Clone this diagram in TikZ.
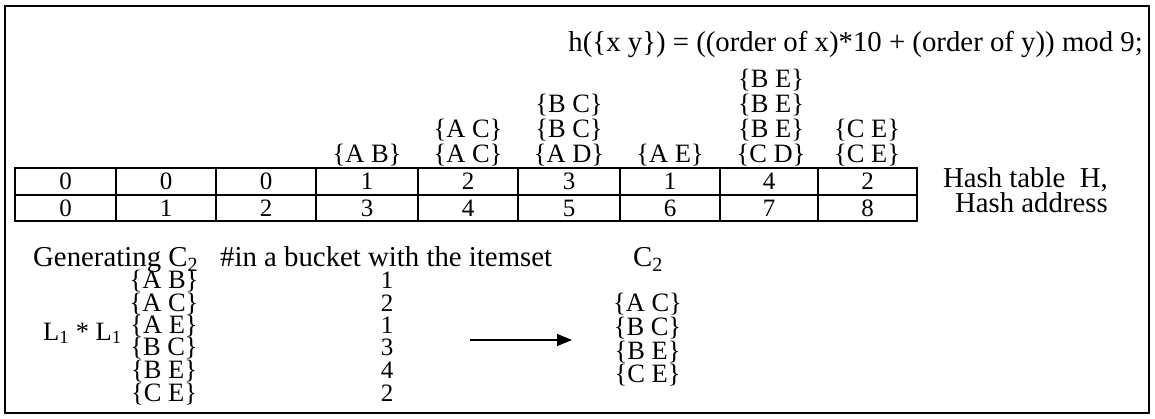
\documentclass[tikz,border=0pt]{standalone}
\usepackage{fontspec}
\setmainfont{Liberation Serif}
\usetikzlibrary{arrows.meta}
\tikzset{
 lbl/.style={font=\fontsize{28.8}{30}\selectfont, inner sep=0pt},
 sm/.style={font=\fontsize{26.5}{27}\selectfont, inner sep=0pt},
 dg/.style={font=\fontsize{25}{26}\selectfont, inner sep=0pt},
 gridline/.style={line width=1.2pt},
 frameline/.style={line width=1.8pt},
 conn/.style={line width=1.2pt, -{Triangle[length=15pt,width=12pt]}}
}
\begin{document}
\begin{tikzpicture}[x=1pt,y=-1pt]
\useasboundingbox (0,0) rectangle (1155,419);
\draw[frameline] (5,6) rectangle (1149,413);

% formula
\node[lbl,anchor=base east] (f) at (1143,52) {h(\{x y\}) = ((order of x)*10 + (order of y)) mod 9;};

% table
\draw[gridline] (15,168) rectangle (917,221);
\draw[gridline] (15,195) -- (917,195);
\foreach \x in {116,216,316,418,518,620,720,818} \draw[gridline] (\x,168) -- (\x,221);
\foreach \cx/\h/\a [count=\i from 0] in {65.5/0/0,166/0/1,266/0/2,367/1/3,468/2/4,569/3/5,670/1/6,769/4/7,867.5/2/8}{
  \node[dg] (h\i) at (\cx,181.5) {\h};
  \node[dg] (a\i) at (\cx,208) {\a};
}
\node[lbl,anchor=base east] (ht) at (1108,188) {Hash table~~H,};
\node[lbl,anchor=base east] (ha) at (1108,213) {Hash address};

% buckets
\node[sm,anchor=base] (b3a) at (367,163) {\{A B\}};
\node[sm,anchor=base] (b4a) at (468,163) {\{A C\}};
\node[sm,anchor=base] (b4b) at (468,138) {\{A C\}};
\node[sm,anchor=base] (b5a) at (569,163) {\{A D\}};
\node[sm,anchor=base] (b5b) at (569,138) {\{B C\}};
\node[sm,anchor=base] (b5c) at (569,113) {\{B C\}};
\node[sm,anchor=base] (b6a) at (670,163) {\{A E\}};
\node[sm,anchor=base] (b7a) at (771,163) {\{C D\}};
\node[sm,anchor=base] (b7b) at (771,138) {\{B E\}};
\node[sm,anchor=base] (b7c) at (771,113) {\{B E\}};
\node[sm,anchor=base] (b7d) at (771,88) {\{B E\}};
\node[sm,anchor=base] (b8a) at (867,163) {\{C E\}};
\node[sm,anchor=base] (b8b) at (867,138) {\{C E\}};

% lower part
\node[lbl,anchor=base west] (gen) at (33,267) {Generating C\textsubscript{2}};
\node[lbl,anchor=base west] (bucket) at (220,267) {\#in a bucket with the itemset};
\node[lbl,anchor=base west] (c2) at (633,267) {C\textsubscript{2}};
\node[sm,anchor=base west] (l1) at (43,340) {L\textsubscript{1} * L\textsubscript{1}};

\foreach \t/\n/\yy [count=\i] in {A B/1/289,A C/2/311,A E/1/333,B C/3/355.5,B E/4/378,C E/2/401}{
  \node[sm,anchor=base] (p\i) at (164,\yy) {\{\t\}};
  \node[dg,anchor=base] (n\i) at (387,\yy) {\n};
}
\foreach \t/\yy [count=\i] in {A C/312,B C/335.5,B E/359,C E/382.5}{
  \node[sm,anchor=base] (c\i) at (647.5,\yy) {\{\t\}};
}
\coordinate (arrS) at (470,340);
\coordinate (arrE) at (572,340);
\draw[conn] (arrS) -- (arrE);
\end{tikzpicture}
\end{document}
